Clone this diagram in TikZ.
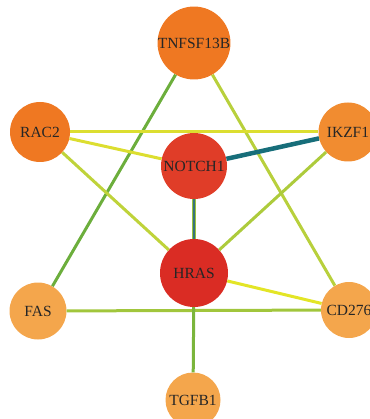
\documentclass[tikz,border=0pt]{standalone}
\usepackage{fontspec}
\setmainfont{Liberation Serif}

\definecolor{hubred}{HTML}{DA2C24}
\definecolor{notchred}{HTML}{E03D28}
\definecolor{darkorange}{HTML}{EF7822}
\definecolor{midorange}{HTML}{F18C30}
\definecolor{lightorange}{HTML}{F4A64C}
\definecolor{edgeyellow}{HTML}{DCDE30}
\definecolor{edgelime}{HTML}{B8D03C}
\definecolor{edgegreen}{HTML}{6CAE3C}
\definecolor{edgeteal}{HTML}{176E7A}

\begin{document}
\begin{tikzpicture}[x=1pt,y=-1pt,
  gene/.style={circle, inner sep=0pt, minimum size=#1, font=\fontsize{15.5}{15.5}\selectfont, text=black!85},
  link/.style={line width=3pt, draw=#1}]
\useasboundingbox (0,0) rectangle (369,419);
% genes:
\node[gene=60pt, fill=darkorange] (tnf) at (194,43) {TNFSF13B};
\node[gene=60pt, fill=darkorange] (rac) at (40,132) {RAC2};
\node[gene=59pt, fill=midorange] (ikz) at (348,132) {IKZF1};
\node[gene=66pt, fill=notchred] (notch) at (194,166) {NOTCH1};
\node[gene=68pt, fill=hubred] (hras) at (194,273) {HRAS};
\node[gene=57pt, fill=lightorange] (fas) at (38,311) {FAS};
\node[gene=56pt, fill=lightorange] (cd) at (349,310) {CD276};
\node[gene=55pt, fill=lightorange] (tgf) at (193,400) {TGFB1};
% interactions:
\draw[link=edgegreen] (tnf) -- (fas);
\draw[link=edgelime] (tnf) -- (cd);
\draw[link=edgeyellow] (rac) -- (ikz);
\draw[link=edgeyellow] (rac) -- (notch);
\draw[link=edgelime!80!edgeyellow] (rac) -- (hras);
\draw[line width=4.5pt, edgeteal] (notch) -- (ikz);
\draw[link=edgelime!60!edgegreen, line width=4pt] (notch) -- (hras);
\draw[line width=1.2pt, edgeteal!70!gray] (notch) -- (hras);
\draw[link=edgelime!85!edgegreen] (ikz) -- (hras);
\draw[link=edgeyellow!80!yellow] (hras) -- (cd);
\draw[link=edgelime!70!edgegreen] (fas) -- (cd);
\draw[link=edgegreen!80!edgelime] (hras) -- (tgf);
\end{tikzpicture}
\end{document}
